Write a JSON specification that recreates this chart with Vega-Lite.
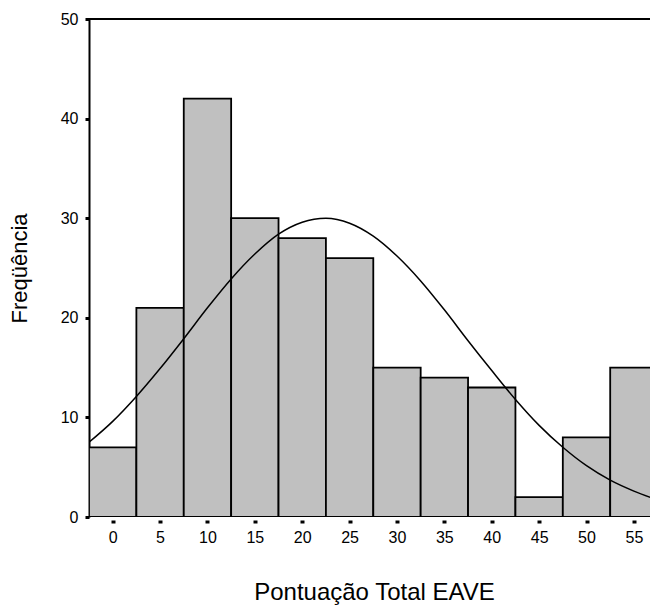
{
  "$schema": "https://vega.github.io/schema/vega-lite/v6.json",
  "autosize": {"type": "none"},
  "width": 561,
  "height": 498,
  "padding": {"left": 89, "top": 19, "right": 1, "bottom": 88},
  "background": "white",
  "config": {
    "view": {"stroke": null},
    "font": "Liberation Sans",
    "axis": {"labelFont": "Liberation Sans", "titleFont": "Liberation Sans", "labelColor": "black", "titleColor": "black", "titleFontWeight": "normal", "grid": false}
  },
  "datasets": {
    "bars": [
      {"lo": -2.5, "hi": 2.5, "count": 7},
      {"lo": 2.5, "hi": 7.5, "count": 21},
      {"lo": 7.5, "hi": 12.5, "count": 42},
      {"lo": 12.5, "hi": 17.5, "count": 30},
      {"lo": 17.5, "hi": 22.5, "count": 28},
      {"lo": 22.5, "hi": 27.5, "count": 26},
      {"lo": 27.5, "hi": 32.5, "count": 15},
      {"lo": 32.5, "hi": 37.5, "count": 14},
      {"lo": 37.5, "hi": 42.5, "count": 13},
      {"lo": 42.5, "hi": 47.5, "count": 2},
      {"lo": 47.5, "hi": 52.5, "count": 8},
      {"lo": 52.5, "hi": 57.5, "count": 15}
    ],
    "curve": [
      {"x": -2.5, "y": 7.5},
      {"x": 0, "y": 9.6},
      {"x": 2.5, "y": 12.1},
      {"x": 5, "y": 14.9},
      {"x": 7.5, "y": 17.9},
      {"x": 10, "y": 21.0},
      {"x": 12.5, "y": 23.9},
      {"x": 15, "y": 26.4},
      {"x": 17.5, "y": 28.4},
      {"x": 20, "y": 29.6},
      {"x": 22.5, "y": 30.0},
      {"x": 25, "y": 29.5},
      {"x": 27.5, "y": 28.2},
      {"x": 30, "y": 26.2},
      {"x": 32.5, "y": 23.7},
      {"x": 35, "y": 20.8},
      {"x": 37.5, "y": 17.7},
      {"x": 40, "y": 14.7},
      {"x": 42.5, "y": 11.8},
      {"x": 45, "y": 9.2},
      {"x": 47.5, "y": 7.0},
      {"x": 50, "y": 5.15},
      {"x": 52.5, "y": 3.7},
      {"x": 55, "y": 2.6},
      {"x": 57.5, "y": 1.7}
    ],
    "top": [{"y": 50}]
  },
  "layer": [
    {
      "data": {"name": "bars"},
      "mark": {"type": "rect", "fill": "#c0c0c0", "stroke": "black", "strokeWidth": 1.8, "clip": true},
      "encoding": {
        "x": {
          "field": "lo", "type": "quantitative",
          "scale": {"domain": [-2.5, 56.7], "nice": false, "zero": false},
          "axis": {
            "values": [0, 5, 10, 15, 20, 25, 30, 35, 40, 45, 50, 55],
            "domain": false,
            "offset": 3,
            "tickSize": 3,
            "tickWidth": 4,
            "tickColor": "black",
            "labelFontSize": 16,
            "labelPadding": 6,
            "title": "Pontuação Total EAVE",
            "titleFontSize": 24,
            "titlePadding": 35,
            "titleX": 285
          }
        },
        "x2": {"field": "hi"},
        "y": {
          "field": "count", "type": "quantitative",
          "scale": {"domain": [0, 50], "nice": false},
          "axis": {
            "values": [0, 10, 20, 30, 40, 50],
            "domain": true,
            "domainColor": "black",
            "domainWidth": 2,
            "tickSize": 4,
            "tickWidth": 3,
            "tickColor": "black",
            "labelFontSize": 16,
            "labelPadding": 7,
            "title": "Freqüência",
            "titleFontSize": 22,
            "titlePadding": 29
          }
        },
        "y2": {"datum": 0}
      }
    },
    {
      "data": {"name": "curve"},
      "mark": {"type": "line", "color": "black", "strokeWidth": 1.5, "clip": true, "interpolate": "monotone"},
      "encoding": {
        "x": {"field": "x", "type": "quantitative"},
        "y": {"field": "y", "type": "quantitative"}
      }
    },
    {
      "data": {"name": "top"},
      "mark": {"type": "rule", "color": "black", "strokeWidth": 2},
      "encoding": {
        "y": {"field": "y", "type": "quantitative"}
      }
    }
  ]
}
